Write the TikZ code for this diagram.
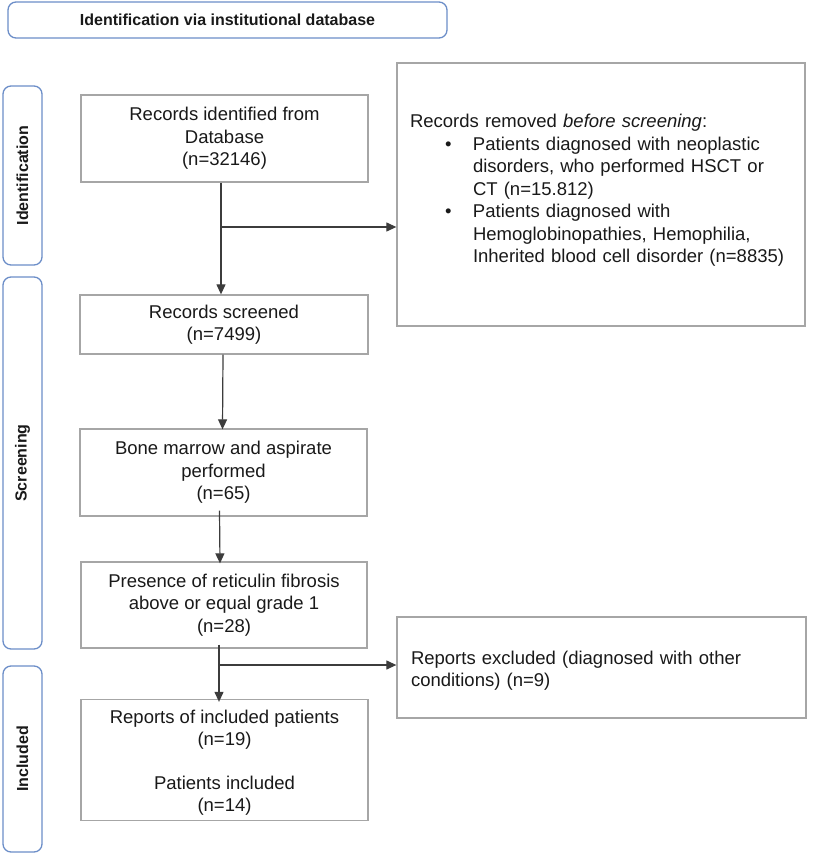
\documentclass[tikz,border=0pt]{standalone}
\usepackage{fontspec}
\setmainfont{Liberation Sans}
\usetikzlibrary{arrows.meta}
\definecolor{boxgray}{RGB}{166,166,166}
\definecolor{sideblue}{RGB}{108,142,200}
\definecolor{arrowc}{RGB}{60,60,60}
\newcommand{\fsmain}{\fontsize{18.5}{22.5}\selectfont}
\newcommand{\fsside}{\fontsize{16}{18}\selectfont\bfseries}
\begin{document}
\begin{tikzpicture}[x=1pt,y=-1pt,
  flowbox/.style={draw=boxgray, line width=1.3pt, font=\fsmain, align=center, inner sep=0pt, text=black!90},
  sidebox/.style={draw=sideblue, line width=1.3pt, rounded corners=8pt, inner sep=0pt, font=\fsside, text=black!90},
  arr/.style={draw=arrowc, line width=1.2pt, -{Triangle[length=10pt,width=9pt]}}]
\useasboundingbox (0,0) rectangle (813,860);

% banner
\node[sidebox, minimum width=439pt, minimum height=36pt] (banner) at (227.5,20) {Identification via institutional database};

% side labels
\node[sidebox, minimum width=39pt, minimum height=179pt] (sidI) at (22.5,175.5) {};
\node[rotate=90, font=\fsside, text=black!90] (sidIt) at (sidI.center) {Identification};
\node[sidebox, minimum width=39pt, minimum height=372pt] (sidS) at (22.5,463) {};
\node[rotate=90, font=\fsside, text=black!90] (sidSt) at (sidS.center) {Screening};
\node[sidebox, minimum width=39pt, minimum height=186pt] (sidN) at (22.5,759) {};
\node[rotate=90, font=\fsside, text=black!90] (sidNt) at (sidN.center) {Included};

% main column
\node[flowbox, minimum width=287pt, minimum height=87pt] (b1) at (224.5,138.5) {Records identified from\\Database\\(n=32146)};
\node[flowbox, minimum width=288pt, minimum height=59pt] (b2) at (224,324.5) {Records screened\\(n=7499)};
\node[flowbox, minimum width=287pt, minimum height=87pt] (b3) at (223.5,472.5) {Bone marrow and aspirate\\performed\\(n=65)};
\node[flowbox, minimum width=286pt, minimum height=86pt] (b4) at (224,605) {Presence of reticulin fibrosis\\above or equal grade 1\\(n=28)};
\node[flowbox, minimum width=287pt, minimum height=121pt] (b5) at (224.5,760) {\rule{0pt}{18.5pt}Reports of included patients\\(n=19)\\[21pt]Patients included\\(n=14)};

% right column
\node[flowbox, minimum width=408pt, minimum height=263pt, text width=382pt, align=left] (rem) at (601,194.5) {Records removed \textit{before screening}:\\
\hspace*{35pt}\makebox[28pt][l]{\textbullet}Patients diagnosed with neoplastic\\
\hspace*{63pt}disorders, who performed HSCT or\\
\hspace*{63pt}CT (n=15.812)\\
\hspace*{35pt}\makebox[28pt][l]{\textbullet}Patients diagnosed with\\
\hspace*{63pt}Hemoglobinopathies, Hemophilia,\\
\hspace*{63pt}Inherited blood cell disorder (n=8835)\rule[-11.5pt]{0pt}{11.5pt}};
\node[flowbox, minimum width=409pt, minimum height=101pt, text width=381pt, align=left] (exc) at (601.5,667.5) {\rule{0pt}{19.5pt}Reports excluded (diagnosed with other\\conditions) (n=9)};

% connectors
\coordinate (j1) at (221,227);
\coordinate (j2) at (219,665);
\draw[arr] (b1.south -| j1) -- (b2.north -| j1);
\draw[arr] (j1) -- (rem.west |- j1);
\draw[arr] ([xshift=-1pt]b2.south) -- ([xshift=-1pt,yshift=-1pt]b3.north);
\draw[arr] ([xshift=-4pt,yshift=6pt]b3.south) -- ([xshift=-4pt,yshift=-2pt]b4.north);
\draw[arr] ([yshift=4pt]b4.south -| j2) -- ([yshift=-3pt]b5.north -| j2);
\draw[arr] (j2) -- (exc.west |- j2);
\end{tikzpicture}
\end{document}
